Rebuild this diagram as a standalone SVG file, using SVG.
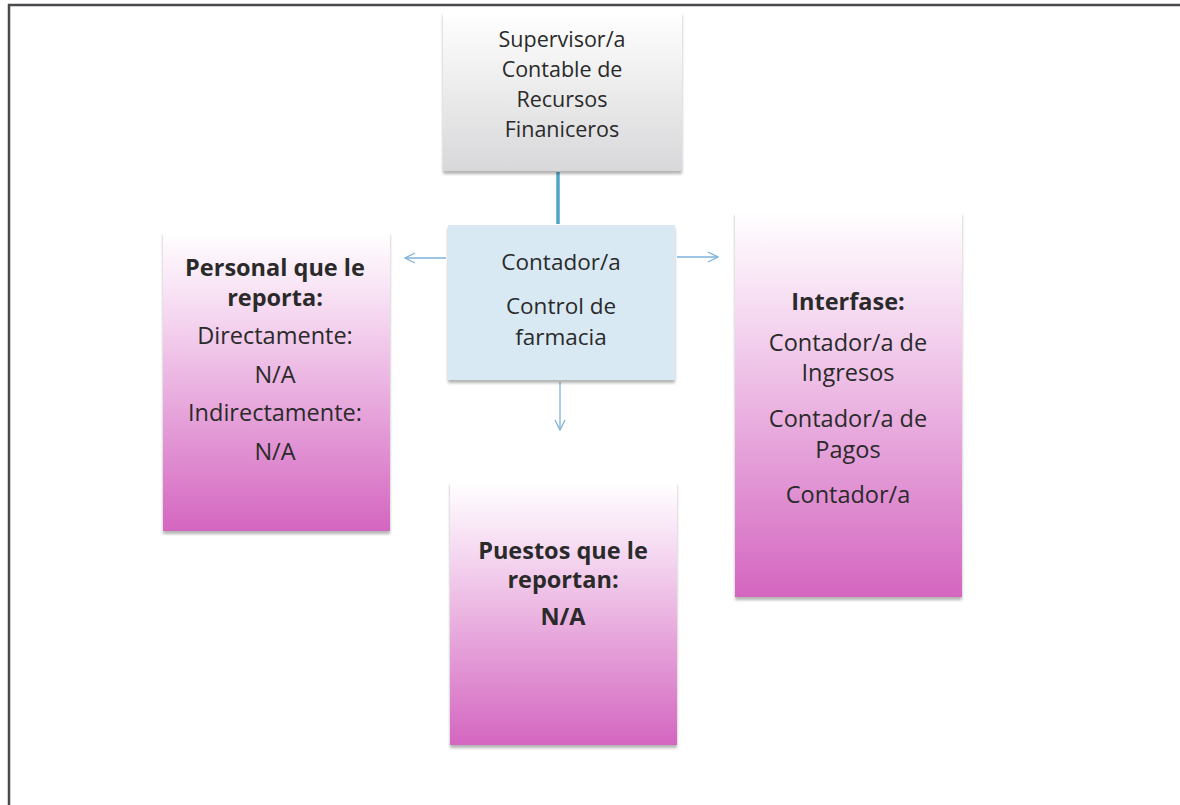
<svg xmlns="http://www.w3.org/2000/svg" width="1180" height="805" viewBox="0 0 1180 805">
<style>
text{font-family:"Open Sans","Noto Sans","Liberation Sans",sans-serif;font-size:23.5px;fill:#2a2a2a;text-anchor:middle}
.t{font-size:21.5px}
.c{font-size:22.5px}
.b{font-weight:bold}
.conn{stroke:#7fb2dc;stroke-width:1.3;fill:none}
</style>
<defs>
<linearGradient id="gray" x1="0" y1="0" x2="0" y2="1">
<stop offset="0" stop-color="#ffffff"/>
<stop offset="1" stop-color="#d8d8da"/>
</linearGradient>
<linearGradient id="mag" x1="0" y1="0" x2="0" y2="1">
<stop offset="0" stop-color="#ffffff"/>
<stop offset="0.3" stop-color="#f4d4ef"/>
<stop offset="1" stop-color="#d466c0"/>
</linearGradient>
<filter id="sh" x="-5%" y="-5%" width="110%" height="110%">
<feGaussianBlur in="SourceAlpha" stdDeviation="1.5"/>
<feOffset dx="0" dy="2.5"/>
<feComponentTransfer><feFuncA type="linear" slope="0.3"/></feComponentTransfer>
<feMerge><feMergeNode/><feMergeNode in="SourceGraphic"/></feMerge>
</filter>
<marker id="arr" viewBox="0 0 12 12" refX="11" refY="6" markerWidth="12" markerHeight="12" markerUnits="userSpaceOnUse" orient="auto">
<path d="M1,1 L11,6 L1,11" fill="none" stroke="#7fb2dc" stroke-width="1.3"/>
</marker>
</defs>
<rect width="1180" height="805" fill="#ffffff"/>
<path d="M9,805 L9,5 L1180,5" fill="none" stroke="#4a4a4e" stroke-width="2.5"/>

<g id="connectors">
<line x1="558" y1="172" x2="558" y2="224" stroke="#4ea6c9" stroke-width="3.5"/>
<line class="conn" x1="446" y1="258" x2="405" y2="258" marker-end="url(#arr)"/>
<line class="conn" x1="677" y1="257" x2="718" y2="257" marker-end="url(#arr)"/>
<line class="conn" x1="560" y1="382" x2="560" y2="430" marker-end="url(#arr)"/>
</g>

<g id="supervisor">
<rect x="443" y="12" width="239" height="159" fill="url(#gray)" filter="url(#sh)"/>
<text class="t" x="562" y="47">Supervisor/a</text>
<text class="t" x="562" y="77">Contable de</text>
<text class="t" x="562" y="107">Recursos</text>
<text class="t" x="562" y="137">Finaniceros</text>
</g>

<g id="contador">
<rect x="448" y="225" width="227" height="155" fill="#d8e9f4" filter="url(#sh)"/>
<text class="c" x="561" y="270">Contador/a</text>
<text class="c" x="561" y="314">Control de</text>
<text class="c" x="561" y="345">farmacia</text>
</g>

<g id="personal">
<rect x="163" y="232" width="227" height="299" fill="url(#mag)" filter="url(#sh)"/>
<text class="b" x="275" y="276">Personal que le</text>
<text class="b" x="275" y="306">reporta:</text>
<text x="275" y="344">Directamente:</text>
<text x="275" y="383">N/A</text>
<text x="275" y="421">Indirectamente:</text>
<text x="275" y="460">N/A</text>
</g>

<g id="interfase">
<rect x="735" y="212" width="227" height="385" fill="url(#mag)" filter="url(#sh)"/>
<text class="b" x="848" y="310">Interfase:</text>
<text x="848" y="351">Contador/a de</text>
<text x="848" y="381">Ingresos</text>
<text x="848" y="427">Contador/a de</text>
<text x="848" y="458">Pagos</text>
<text x="848" y="503">Contador/a</text>
</g>

<g id="puestos">
<rect x="450" y="482" width="227" height="263" fill="url(#mag)" filter="url(#sh)"/>
<text class="b" x="563" y="559">Puestos que le</text>
<text class="b" x="563" y="588">reportan:</text>
<text class="b" x="563" y="625">N/A</text>
</g>
</svg>
